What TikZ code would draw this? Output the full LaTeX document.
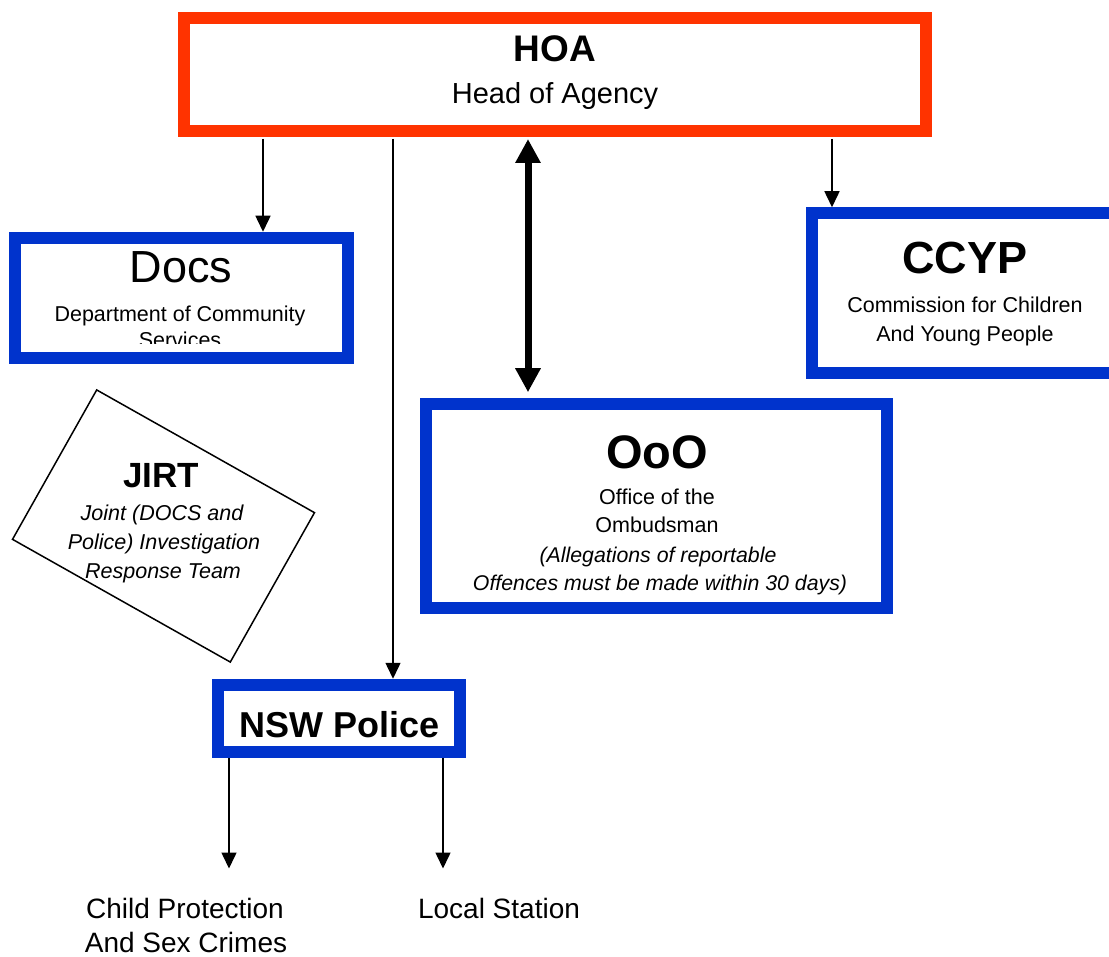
\documentclass[tikz,border=0pt]{standalone}
\usepackage{fontspec}
\setmainfont{Liberation Sans}
\usetikzlibrary{arrows.meta}
\definecolor{hoared}{HTML}{FF3300}
\definecolor{agencyblue}{HTML}{0033CC}

\begin{document}
\begin{tikzpicture}[
  x=1pt, y=-1pt,
  redbox/.style={draw=hoared, line width=12pt, inner sep=0pt},
  bluebox/.style={draw=agencyblue, line width=12pt, inner sep=0pt},
  line/.style={-{Triangle[width=15pt,length=16pt]}, line width=1.5pt},
  bigline/.style={{Triangle[width=24pt,length=24pt]}-{Triangle[width=24pt,length=24pt]}, line width=7pt},
  txt/.style={anchor=base, inner sep=0pt},
  boldtext/.style={txt, font=\bfseries\fontsize{#1}{#1}\selectfont},
  regtext/.style={txt, font=\fontsize{#1}{#1}\selectfont},
  ittext/.style={txt, font=\itshape\fontsize{#1}{#1}\selectfont}
]
\clip (0,0) rectangle (1109,957);

% boxes
\node[redbox, minimum width=742pt, minimum height=113pt] (hoa) at (555,74.5) {};
\node[bluebox, minimum width=333pt, minimum height=120.5pt] (docs) at (181,298) {};
\node[bluebox, minimum width=306pt, minimum height=159.5pt] (ccyp) at (965,293) {};
\node[bluebox, minimum width=461pt, minimum height=203.5pt] (ooo) at (656.5,506) {};
\node[bluebox, minimum width=242pt, minimum height=67.5pt] (nsw) at (339,718.5) {};
\node[draw, line width=1.5pt, inner sep=0pt, minimum width=250pt, minimum height=171.5pt, rotate=-29.4] (jirt) at (163.5,526) {};

% texts
\node[boldtext=37] (hoa-title) at (555,62) {HOA};
\node[regtext=29] (hoa-sub) at (555,104) {Head of Agency};

\begin{scope}
\clip (20,243) rectangle (342,344);
\node[regtext=45] (docs-title) at (181,283) {Docs};
\node[regtext=21.5] (docs-sub1) at (180,322) {Department of Community};
\node[regtext=21.5] (docs-sub2) at (180,348) {Services};
\end{scope}

\node[boldtext=45] (ccyp-title) at (965,274) {CCYP};
\node[regtext=21.5] (ccyp-sub1) at (965,313) {Commission for Children};
\node[regtext=21.5] (ccyp-sub2) at (965,342) {And Young People};

\node[boldtext=47] (ooo-title) at (657,468) {OoO};
\node[regtext=21.5] (ooo-sub1) at (657,504) {Office of the};
\node[regtext=21.5] (ooo-sub2) at (657,532) {Ombudsman};
\node[ittext=21.3] (ooo-note1) at (658,562) {(Allegations of reportable};
\node[ittext=21.3] (ooo-note2) at (660,590) {Offences must be made within 30 days)};

\node[boldtext=35] (jirt-title) at (161,488) {JIRT};
\node[ittext=21.5] (jirt-sub1) at (162,520) {Joint (DOCS and};
\node[ittext=21.5] (jirt-sub2) at (164,549) {Police) Investigation};
\node[ittext=21.5] (jirt-sub3) at (163,578) {Response Team};

\node[boldtext=36] (nsw-title) at (340,737) {NSW Police};

\node[regtext=28] (cp) at (185,918) {Child Protection};
\node[regtext=28] (cp-sub) at (186,952) {And Sex Crimes};
\node[regtext=28] (ls) at (499,918) {Local Station};

% connectors
\coordinate (docsx) at (263,0);
\coordinate (policex) at (393,0);
\coordinate (ooox) at (528,0);
\coordinate (ccypx) at (832,0);
\coordinate (cpx) at (229,0);
\coordinate (lsx) at (443,0);

\draw[line, shorten <=2pt] (hoa.south -| docsx) -- (docs.north -| docsx);
\draw[line, shorten <=2pt] (hoa.south -| policex) -- (nsw.north -| policex);
\draw[line, shorten <=2pt] (hoa.south -| ccypx) -- (ccyp.north -| ccypx);
\draw[bigline, shorten <=2pt, shorten >=6pt] (hoa.south -| ooox) -- (ooo.north -| ooox);
\draw[line, shorten >=29pt] (nsw.south -| cpx) -- (cp.north -| cpx);
\draw[line, shorten >=29pt] (nsw.south -| lsx) -- (ls.north -| lsx);
\end{tikzpicture}
\end{document}
